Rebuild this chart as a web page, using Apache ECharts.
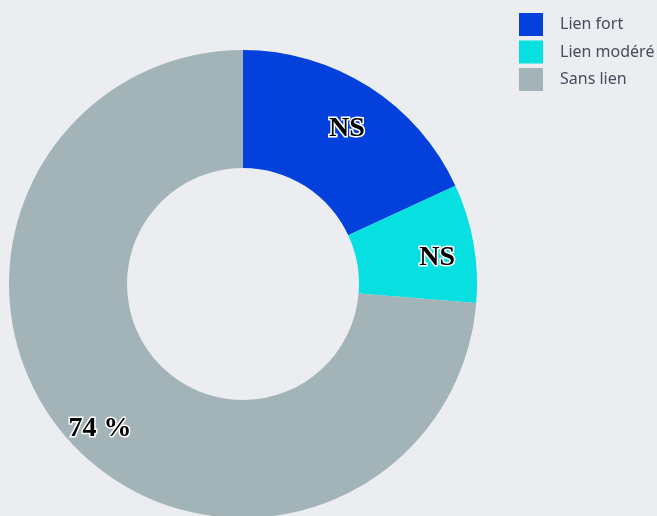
<!DOCTYPE html>
<html>
<head>
<meta charset="utf-8">
<script src="https://cdn.jsdelivr.net/npm/echarts@6/dist/echarts.min.js"></script>
<style>
  html, body { margin: 0; padding: 0; background: #ebedf0; }
  #chart { width: 657px; height: 516px; }
</style>
</head>
<body>
<div id="chart"></div>
<script>
const categories = ['Lien fort', 'Lien modéré', 'Sans lien'];
const values = [18.1, 8.2, 73.7];
const labels = ['NS', 'NS', '74 %'];
const colors = ['#0441dc', '#07dfe0', '#a2b4b8'];
// nudges so the labels sit where the reference puts them
const labelOffsets = [[8, -5], [19, 5], [-12, 24]];

document.addEventListener('DOMContentLoaded', function() {
	const chart = echarts.init(document.getElementById('chart'));
	const option = {
		animation: false,
		backgroundColor: '#ebedf0',
		legend: {
			orient: 'vertical',
			left: 514,
			top: 8,
			itemWidth: 24,
			itemHeight: 23,
			itemGap: 4.5,
			icon: 'rect',
			data: categories,
			textStyle: {
				fontFamily: 'Noto Sans',
				fontSize: 16,
				color: '#454c5c',
				padding: [0, 0, 0, 12]
			}
		},
		series: [
			{
				type: 'pie',
				center: [243, 284],
				radius: [116, 234],
				startAngle: 90,
				clockwise: true,
				avoidLabelOverlap: false,
				label: {
					show: true,
					position: 'inside',
					fontFamily: 'Liberation Serif',
					fontWeight: 'bold',
					fontSize: 28,
					color: '#000',
					textBorderColor: '#fff',
					textBorderWidth: 3
				},
				labelLine: { show: false },
				emphasis: { disabled: true },
				data: categories.map(function(name, i) {
					return {
						name: name,
						value: values[i],
						itemStyle: { color: colors[i] },
						label: { formatter: labels[i], offset: labelOffsets[i] }
					};
				})
			}
		]
	};
	chart.setOption(option);
	window.addEventListener('resize', function() {
		chart.resize();
	});
});
</script>
</body>
</html>
